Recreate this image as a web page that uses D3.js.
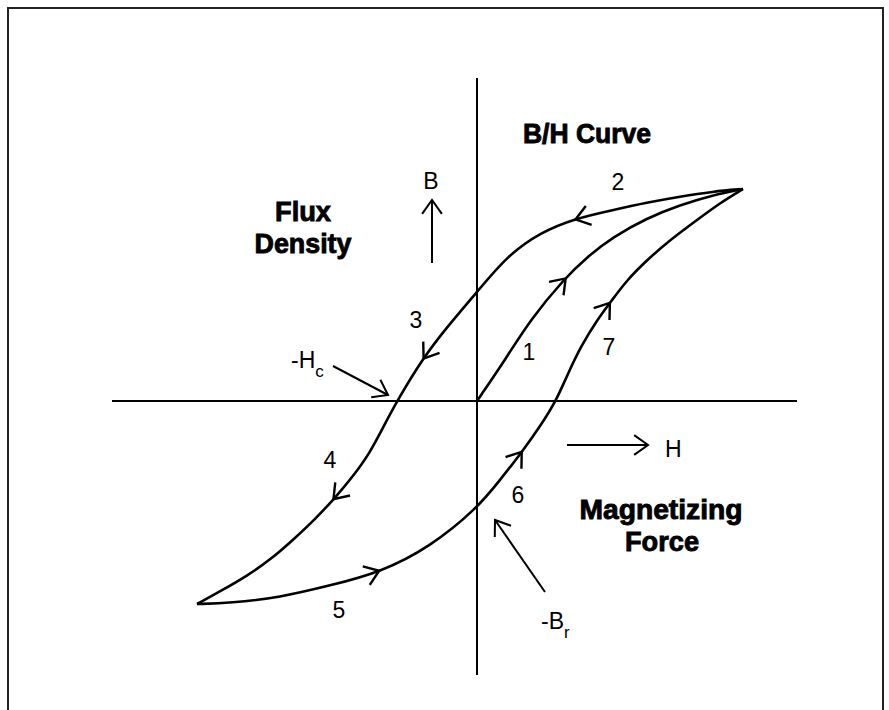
<!DOCTYPE html>
<html>
<head>
<meta charset="utf-8">
<script src="https://cdn.jsdelivr.net/npm/d3@7"></script>
<style>
  body { margin: 0; background: #fff; }
  text { font-family: "Liberation Sans Narrow", "Arial Narrow", "Liberation Sans", sans-serif; fill: #000; }
  .big { font-weight: bold; stroke: #000; stroke-width: 0.9px; }
  .num { font-size: 23px; }
</style>
</head>
<body>
<div id="d3-bh-vis"></div>
<script>
var w = 889;
var h = 710;

// axis extents (H = magnetizing force, B = flux density)
var hExtent = [-14.6, 12.8];
var bExtent = [-10.96, 12.92];

// initial magnetization curve (1)
var initialH = [0, 1.2, 2.12, 3.52, 4.4, 5.44, 6.8, 8.12, 9.44, 10.64];
var initialB = [0, 1.76, 3.24, 4.92, 5.76, 6.56, 7.32, 7.84, 8.24, 8.48];

// descending branch (2, 3, 4)
var downH = [10.64, 9.44, 8.12, 6.8, 5.44, 3.92, 2.52, 1.2, 0, -1.2, -2.16, -3.2,
             -3.78, -4.3, -4.95, -5.7, -6.5, -7.3, -8.2, -9.2, -10.25, -11.2];
var downB = [8.48, 8.38, 8.18, 7.94, 7.64, 7.3, 6.74, 5.8, 4.36, 2.96, 1.72, 0.0,
             -1.1, -2.1, -3.0, -3.9, -4.75, -5.5, -6.3, -7.0, -7.6, -8.12];

// ascending branch (5, 6, 7)
var upH = [-11.2, -9.88, -7.88, -5.88, -3.88, -1.88, 0, 0.92, 1.8, 2.6, 3.16,
           3.64, 4.14, 4.8, 5.36, 6.0, 6.8, 7.72, 8.8, 9.72, 10.64];
var upB = [-8.12, -8.08, -7.86, -7.38, -6.86, -5.84, -4.3, -3.16, -2.04, -0.9, 0,
           1.1, 2.16, 3.24, 3.98, 4.84, 5.64, 6.44, 7.24, 7.92, 8.48];

// direction arrows on the curves
var flowArrowH = [3.52, 3.92, -2.16, -5.8, -3.88, 1.8, 5.32];
var flowArrowB = [4.92, 7.32, 1.72, -3.88, -6.88, -2.04, 3.92];
var flowArrowCurve = ["initial", "down", "down", "down", "up", "up", "up"];

// segment numbers
var segLabels = ["1", "2", "3", "4", "5", "6", "7"];
var segLabelH = [2.08, 5.64, -2.44, -5.88, -5.52, 1.64, 5.28];
var segLabelB = [1.64, 8.44, 2.92, -2.68, -8.68, -4.08, 1.84];

// pointer arrows: B, H, -Hc, -Br
var pointerFromH = [-1.8, 3.6, -5.76, 2.72];
var pointerFromB = [5.52, -1.76, 1.4, -7.64];
var pointerToH = [-1.8, 6.84, -3.56, 0.72];
var pointerToB = [8.04, -1.76, 0.24, -4.76];

var svg0 = d3.select("div#d3-bh-vis")
			.append("svg")
			.attr("width", w)
			.attr("height", h);

var xScale = d3.scaleLinear()
			   .domain(hExtent)
			   .range([112, 797]);

var yScale = d3.scaleLinear()
			   .domain(bExtent)
			   .range([675, 78]);

// frame (bottom edge falls outside the picture)
svg0.append("path")
	.attr("d", "M8,712 L8,8 L883,8 L883,712")
	.attr("fill", "none")
	.attr("stroke", "#222")
	.attr("stroke-width", 2);

// axes
svg0.append("line")
	.attr("x1", xScale(hExtent[0]))
	.attr("x2", xScale(hExtent[1]))
	.attr("y1", yScale(0))
	.attr("y2", yScale(0))
	.attr("stroke", "#000")
	.attr("stroke-width", 2.2);

svg0.append("line")
	.attr("x1", xScale(0))
	.attr("x2", xScale(0))
	.attr("y1", yScale(bExtent[0]))
	.attr("y2", yScale(bExtent[1]))
	.attr("stroke", "#000")
	.attr("stroke-width", 2);

var line = d3.line()
			 .x(function(d) { return xScale(d[0]); })
			 .y(function(d) { return yScale(d[1]); })
			 .curve(d3.curveBasis);

var curves = {
	initial: d3.zip(initialH, initialB),
	down: d3.zip(downH, downB),
	up: d3.zip(upH, upB)
};

var curveNodes = {};
Object.keys(curves).forEach(function(key) {
	curveNodes[key] = svg0.append("path")
		.attr("d", line(curves[key]))
		.attr("fill", "none")
		.attr("stroke", "#000")
		.attr("stroke-width", 2.6)
		.attr("stroke-linejoin", "round")
		.node();
});

// open chevron head at (tx, ty) pointing along angle a
function chevron(tx, ty, a, len, spread) {
	var p1 = [tx - len * Math.cos(a - spread), ty - len * Math.sin(a - spread)];
	var p2 = [tx - len * Math.cos(a + spread), ty - len * Math.sin(a + spread)];
	return "M" + p1[0] + "," + p1[1] + " L" + tx + "," + ty + " L" + p2[0] + "," + p2[1];
}

// flow arrows: find the nearest spot on the curve, take its direction
flowArrowH.forEach(function(hv, i) {
	var node = curveNodes[flowArrowCurve[i]];
	var total = node.getTotalLength();
	var px = xScale(hv), py = yScale(flowArrowB[i]);
	var best = 0, bestD = Infinity;
	for (var s = 0; s <= total; s += 0.5) {
		var p = node.getPointAtLength(s);
		var dd = (p.x - px) * (p.x - px) + (p.y - py) * (p.y - py);
		if (dd < bestD) { bestD = dd; best = s; }
	}
	var a0 = node.getPointAtLength(Math.max(0, best - 4));
	var a1 = node.getPointAtLength(Math.min(total, best + 4));
	var pt = node.getPointAtLength(best);
	var ang = Math.atan2(a1.y - a0.y, a1.x - a0.x);
	svg0.append("path")
		.attr("d", chevron(pt.x, pt.y, ang, 17, 0.62))
		.attr("fill", "none")
		.attr("stroke", "#000")
		.attr("stroke-width", 2.4);
});

// pointer arrows
pointerFromH.forEach(function(hv, i) {
	var x1 = xScale(hv), y1 = yScale(pointerFromB[i]);
	var x2 = xScale(pointerToH[i]), y2 = yScale(pointerToB[i]);
	var ang = Math.atan2(y2 - y1, x2 - x1);
	svg0.append("line")
		.attr("x1", x1).attr("y1", y1)
		.attr("x2", x2).attr("y2", y2)
		.attr("stroke", "#000")
		.attr("stroke-width", 2);
	svg0.append("path")
		.attr("d", chevron(x2, y2, ang, 17, 0.62))
		.attr("fill", "none")
		.attr("stroke", "#000")
		.attr("stroke-width", 2);
});

// segment numbers
svg0.selectAll("text.num")
	.data(segLabels)
	.enter()
	.append("text")
	.attr("class", "num")
	.attr("x", function(d, i) { return xScale(segLabelH[i]); })
	.attr("y", function(d, i) { return yScale(segLabelB[i]); })
	.attr("text-anchor", "middle")
	.text(function(d) { return d; });

// axis letters
svg0.append("text").attr("class", "num")
	.attr("x", 431).attr("y", 189).attr("text-anchor", "middle").text("B");
svg0.append("text").attr("class", "num")
	.attr("x", 665).attr("y", 457).text("H");

// -Hc and -Br
var hc = svg0.append("text").attr("class", "num").attr("x", 291).attr("y", 368);
hc.append("tspan").text("-H");
hc.append("tspan").attr("dy", 9).style("font-size", "17px").text("c");

var br = svg0.append("text").attr("class", "num").attr("x", 541).attr("y", 629);
br.append("tspan").text("-B");
br.append("tspan").attr("dy", 9).style("font-size", "17px").text("r");

// bold titles
var titles = [
	{ t: "B/H Curve", x: 587, y: 143, len: 128, size: 27 },
	{ t: "Flux", x: 303, y: 221, len: 56, size: 28 },
	{ t: "Density", x: 303, y: 253, len: 97, size: 28 },
	{ t: "Magnetizing", x: 661, y: 519, len: 163, size: 28 },
	{ t: "Force", x: 662, y: 551, len: 74, size: 28 }
];

svg0.selectAll("text.big")
	.data(titles)
	.enter()
	.append("text")
	.attr("class", "big")
	.attr("x", function(d) { return d.x; })
	.attr("y", function(d) { return d.y; })
	.attr("text-anchor", "middle")
	.attr("textLength", function(d) { return d.len; })
	.attr("lengthAdjust", "spacingAndGlyphs")
	.style("font-size", function(d) { return d.size + "px"; })
	.text(function(d) { return d.t; });
</script>
</body>
</html>
